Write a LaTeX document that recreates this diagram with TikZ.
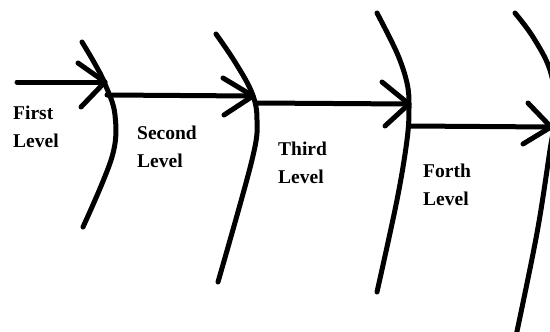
\documentclass[tikz,border=0pt]{standalone}
\usepackage{fontspec}
\setmainfont{Liberation Serif}
\begin{document}
\begin{tikzpicture}[x=1pt,y=-1pt,
  stroke/.style={line width=5pt,line cap=round,line join=round},
  label/.style={font=\fontsize{19.5}{28}\selectfont\bfseries,align=left,inner sep=0pt,anchor=base west}]
\useasboundingbox (0,0) rectangle (550,332);
\clip (0,0) rectangle (550,332);
\fill[white] (0,0) rectangle (550,332);

% bones (curved ribs)
\draw[stroke] plot[smooth,tension=0.6] coordinates {(82,42) (95,64) (105,84) (115,115) (112,157) (83,227)};
\draw[stroke] plot[smooth,tension=0.6] coordinates {(216,34) (235,62) (252,93) (257,120) (252,160) (218,282)};
\draw[stroke] plot[smooth,tension=0.6] coordinates {(377,13) (397,53) (407,83) (409,107) (407,140) (397,200) (377,292)};
\draw[stroke] plot[smooth,tension=0.6] coordinates {(515,13) (533,37) (550,70) (556,110) (550,150) (537,233) (516,336)};

% arrow tips and tails
\coordinate (s1) at (17,82);   \coordinate (t1) at (105,82);
\coordinate (s2) at (107,95);  \coordinate (t2) at (253,96);
\coordinate (s3) at (257,103); \coordinate (t3) at (409,104);
\coordinate (s4) at (410,126); \coordinate (t4) at (551,127);
\coordinate (u1) at (78,63);   \coordinate (l1) at (81,107);
\coordinate (u2) at (223,78);  \coordinate (l2) at (224,115);
\coordinate (u3) at (382,82);  \coordinate (l3) at (385,126);
\coordinate (u4) at (528,103); \coordinate (l4) at (523,144);

\foreach \i in {1,2,3,4}{
  \draw[stroke] (s\i) -- (t\i);
  \draw[stroke] (u\i) -- (t\i) -- (l\i);
}

% labels (anchored at the baseline of the second line)
\node[label] (first)  at (13,147)  {First\\Level};
\node[label] (second) at (137,167) {Second\\Level};
\node[label] (third)  at (278,183) {Third\\Level};
\node[label] (forth)  at (423,205) {Forth\\Level};
\end{tikzpicture}
\end{document}
